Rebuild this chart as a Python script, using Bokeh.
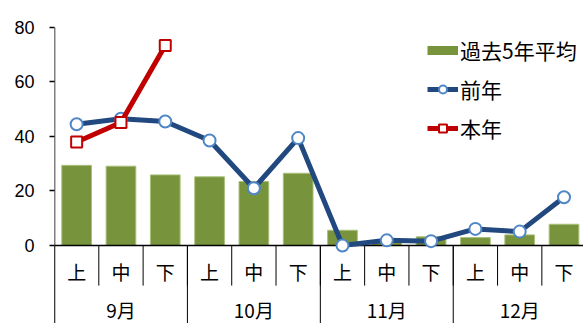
from bokeh.plotting import figure
from bokeh.models import (Range1d, FixedTicker, ColumnDataSource, Legend, LegendItem)
from bokeh.core.properties import value
from bokeh.embed import file_html
from bokeh.resources import INLINE

# ---- data ----
months = ["9月", "10月", "11月", "12月"]
periods = ["上", "中", "下"]
avg5 = [29.4, 29.1, 25.9, 25.2, 23.5, 26.5, 5.6, 1.8, 3.2, 2.9, 3.9, 7.8]
prev_year = [44.5, 46.5, 45.5, 38.5, 21.0, 39.4, 0.0, 1.9, 1.6, 6.1, 5.1, 17.7]
this_year = [38.0, 45.1, 73.4]
y_ticks = [0, 20, 40, 60, 80]

n = len(months) * len(periods)
xs = [i + 0.5 for i in range(n)]

JP = "Noto Sans CJK JP"
NUM = "Liberation Sans"
GREEN = "#77933c"
BLUE = "#22497f"
BLUE_M = "#4f86c6"
RED = "#c00000"

Y_MIN = -28.6
Y_MAX = 86.2
SUB_SEP = -14.7
SUB_LBL = -9.4
GRP_LBL = -23.6

p = figure(width=583, height=323,
           x_range=Range1d(0, 11.94), y_range=Range1d(Y_MIN, Y_MAX),
           min_border_left=54, min_border_right=0, min_border_top=10, min_border_bottom=0,
           x_axis_location=None, output_backend="svg", toolbar_location=None)
p.outline_line_color = None
p.grid.visible = False
p.background_fill_color = "white"

ax = p.yaxis[0]
ax.ticker = FixedTicker(ticks=y_ticks)
ax.axis_line_color = None
ax.major_tick_line_color = "black"
ax.major_tick_line_width = 1.5
ax.major_tick_out = 5
ax.major_tick_in = 0
ax.minor_tick_line_color = None
ax.major_label_text_font = NUM
ax.major_label_text_font_size = "18px"
ax.major_label_text_color = "black"
ax.major_label_standoff = 15

# bars
bars = p.vbar(x=xs, top=avg5, width=0.67, fill_color=GREEN, line_color="#a9c07a", line_width=1)

# axis lines and separators
p.segment(x0=[0], y0=[Y_MIN], x1=[0], y1=[y_ticks[-1]], line_color="black", line_width=1.5)
p.segment(x0=[0], y0=[0], x1=[n], y1=[0], line_color="black", line_width=1.5)
p.segment(x0=list(range(1, n)), y0=[0] * (n - 1), x1=list(range(1, n)), y1=[SUB_SEP] * (n - 1),
          line_color="black", line_width=1)
grp = [i * len(periods) for i in range(len(months) + 1)]
p.segment(x0=grp, y0=[0] * len(grp), x1=grp, y1=[Y_MIN] * len(grp), line_color="black", line_width=1)

# lines
bl = p.line(xs, prev_year, line_color=BLUE, line_width=5, line_join="round")
bm = p.scatter(xs, prev_year, marker="circle", size=12, fill_color="white", line_color=BLUE_M, line_width=2)
rl = p.line(xs[:len(this_year)], this_year, line_color=RED, line_width=5, line_join="round")
rm = p.scatter(xs[:len(this_year)], this_year, marker="square", size=11, fill_color="white", line_color=RED, line_width=2)

# category labels
sub_src = ColumnDataSource(dict(x=xs, y=[SUB_LBL] * n, t=periods * len(months)))
p.text(x="x", y="y", text="t", source=sub_src, text_font=value(JP), text_font_size="19px",
       text_align="center", text_baseline="middle", text_color="black")
grp_src = ColumnDataSource(dict(x=[i * 3 + 1.5 for i in range(len(months))], y=[GRP_LBL] * len(months), t=months))
p.text(x="x", y="y", text="t", source=grp_src, text_font=value(JP), text_font_size="19px",
       text_align="center", text_baseline="middle", text_color="black")

# legend proxy for bar series (not drawn in plot: NaN point)
proxy = p.line(x=[float("nan")], y=[float("nan")], line_color=GREEN, line_width=9)

legend = Legend(items=[
    LegendItem(label="過去5年平均", renderers=[proxy]),
    LegendItem(label="前年", renderers=[bl, bm]),
    LegendItem(label="本年", renderers=[rl, rm]),
], location=(373, 180), glyph_width=31, glyph_height=20, label_height=20, spacing=9,
    padding=0, margin=0, label_standoff=2, background_fill_alpha=0, border_line_alpha=0,
    label_text_font=JP, label_text_font_size="21px", label_text_color="black")
p.add_layout(legend)

open("out.html", "w").write(file_html(p, INLINE))
